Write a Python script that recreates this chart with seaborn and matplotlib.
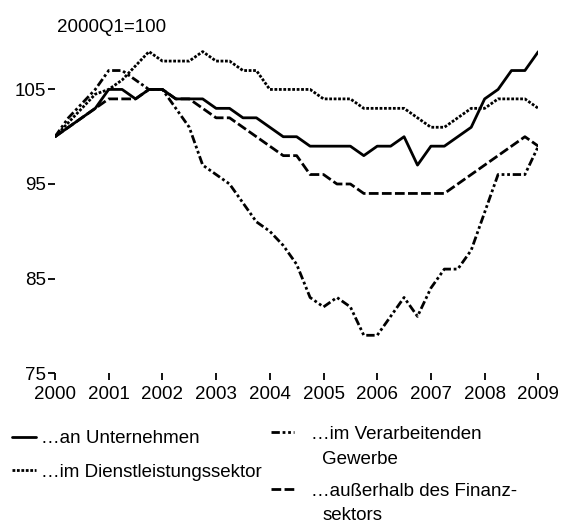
import numpy as np
import pandas as pd
import matplotlib
matplotlib.use("Agg")
import matplotlib.pyplot as plt
import seaborn as sns

sns.set_style("white")
plt.rcParams["font.family"] = ["Liberation Sans", "DejaVu Sans"]
plt.rcParams["text.color"] = "black"
plt.rcParams["xtick.color"] = "black"
plt.rcParams["ytick.color"] = "black"
FS = 13.5

# quarterly index values, 2000Q1 .. 2009Q1 (2000Q1 = 100)
unternehmen = [100, 101, 102, 103, 105, 105, 104, 105, 105, 104, 104, 104,
               103, 103, 102, 102, 101, 100, 100, 99, 99, 99, 99, 98,
               99, 99, 100, 97, 99, 99, 100, 101, 104, 105, 107, 107, 109]
dienstleistung = [100, 101.5, 103, 104.5, 105, 106, 107.5, 109, 108, 108, 108, 109,
                  108, 108, 107, 107, 105, 105, 105, 105, 104, 104, 104, 103,
                  103, 103, 103, 102, 101, 101, 102, 103, 103, 104, 104, 104, 103]
verarbeitend = [100, 102, 103.5, 105, 107, 107, 106, 105, 105, 103, 101, 97,
                96, 95, 93, 91, 90, 88.5, 86.5, 83, 82, 83, 82, 79,
                79, 81, 83, 81, 84, 86, 86, 88, 92, 96, 96, 96, 99]
ausserhalb = [100, 101, 102, 103, 104, 104, 104, 105, 105, 104, 104, 103,
              102, 102, 101, 100, 99, 98, 98, 96, 96, 95, 95, 94,
              94, 94, 94, 94, 94, 94, 95, 96, 97, 98, 99, 100, 99]

labels = ["…an Unternehmen", "…im Dienstleistungssektor",
          "…im Verarbeitenden", "…außerhalb des Finanz-"]
label_tails = ["Gewerbe", "sektors"]
years = list(range(2000, 2010))

t = 2000 + np.arange(len(unternehmen)) / 4

fig = plt.figure(figsize=(5.64, 5.27), dpi=100)
ax = fig.add_axes([0.0975, 0.292, 0.857, 0.628])

styles = ["-", (0, (1, 0.6)), (0, (3, 1, 1, 1, 1, 1)), (0, (3.5, 1.2))]
series = [unternehmen, dienstleistung, verarbeitend, ausserhalb]
for vals, lab, ls in zip(series, labels, styles):
    sns.lineplot(x=t, y=vals, ax=ax, color="black", linewidth=2.0,
                 linestyle=ls, label=lab, legend=False)

ax.set_xlim(2000, 2009)
ax.set_ylim(75, 110)
ax.set_xticks(years)
ax.set_xticklabels([str(y) for y in years])
ax.set_yticks([75, 85, 95, 105])
sns.despine(ax=ax, left=True, bottom=True)
ax.tick_params(axis="both", direction="out", length=5, width=1.3,
               color="black", labelsize=FS)
ax.tick_params(axis="x", bottom=True, pad=4)
ax.tick_params(axis="y", left=True, pad=1.5)

fig.text(0.101, 0.948, "2000Q1=100", fontsize=FS, ha="left", va="center")

h = ax.get_lines()
fig.legend(h[:2], labels[:2], loc="upper left", bbox_to_anchor=(0.022, 0.184),
           frameon=False, fontsize=FS, handlelength=1.25, handletextpad=0.3,
           labelspacing=0.87, borderaxespad=0, borderpad=0)
fig.legend(h[2:], labels[2:], loc="upper left", bbox_to_anchor=(0.48, 0.192),
           frameon=False, fontsize=FS, handlelength=1.25, handletextpad=0.9,
           labelspacing=2.11, borderaxespad=0, borderpad=0)
fig.text(0.571, 1 - 460 / 527, label_tails[0], fontsize=FS, va="center")
fig.text(0.571, 1 - 515 / 527, label_tails[1], fontsize=FS, va="center")

fig.savefig("out.png", dpi=100)
